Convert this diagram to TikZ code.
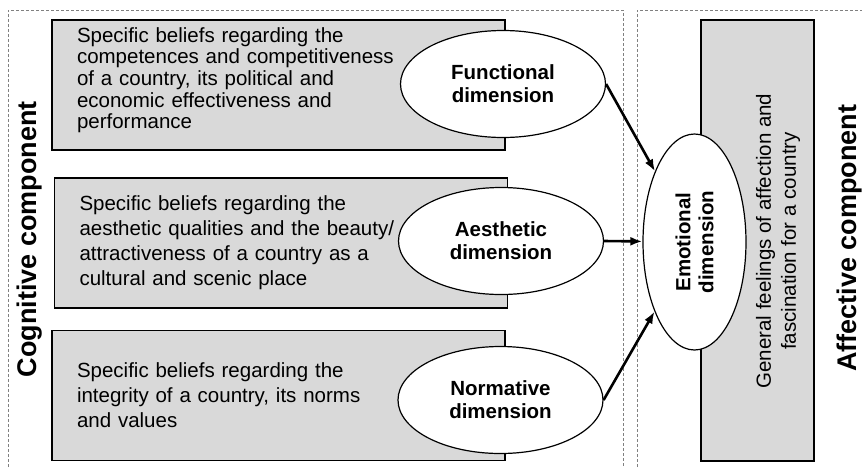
\documentclass[tikz,border=0pt]{standalone}
\usepackage{fontspec}
\setmainfont{Liberation Sans}
\usepackage{xcolor}
\usetikzlibrary{shapes.geometric, arrows.meta}
\definecolor{boxgray}{HTML}{D9D9D9}
\tikzstyle{belief} = [
    rectangle, draw=black, line width=1.7pt, fill=boxgray,
    minimum height=130pt, text width=403pt, inner xsep=25pt,
    align=left, font=\fontsize{20.5pt}{25pt}\selectfont]
\tikzstyle{dimension} = [
    ellipse, draw=black, line width=1.2pt, fill=white,
    minimum width=205pt, minimum height=107pt, inner sep=0pt,
    align=center, font=\fontsize{20.5pt}{23pt}\selectfont\bfseries]
\tikzstyle{heading} = [
    rotate=90, anchor=base, inner sep=0pt,
    font=\fontsize{27pt}{30pt}\selectfont\bfseries]
\tikzstyle{frame} = [draw=gray, line width=0.8pt, dash pattern=on 3pt off 2pt]
\tikzstyle{arrow} = [line width=2.6pt, -{Latex[length=12pt, width=9pt]}]

\begin{document}
\begin{tikzpicture}[x=1pt, y=-1pt]
  \useasboundingbox (0,0) rectangle (862,467);

  % component frames
  \draw [frame] (8,467) |- (623,10) -- (623,467);
  \draw [frame] (637,467) |- (862,10);

  \node (cog) [heading] at (36,239) {Cognitive component};
  \node (aff) [heading] at (856,238) {Affective component};

  % cognitive beliefs
  \node (b1) [belief, font=\fontsize{20.5pt}{21.6pt}\selectfont] at (278.5,85)
      {Specific beliefs regarding the\\
       competences and competitiveness\\
       of a country, its political and\\
       economic effectiveness and\\
       performance\rule[-14pt]{0pt}{0pt}};
  \node (b2) [belief] at (281,243)
      {Specific beliefs regarding the\\
       aesthetic qualities and the beauty/\\
       attractiveness of a country as a\\
       cultural and scenic place};
  \node (b3) [belief] at (278.5,395.5)
      {Specific beliefs regarding the\\
       integrity of a country, its norms\\
       and values};

  \node (func) [dimension] at (503,84) {Functional\\dimension};
  \node (aes) [dimension] at (501,241) {Aesthetic\\dimension};
  \node (norm) [dimension] at (500.5,400) {Normative\\dimension};

  % affective side
  \node (feelbox) [rectangle, draw=black, line width=1.7pt, fill=boxgray,
      minimum width=113pt, minimum height=441pt] at (757.5,240.5) {};
  \node (feel) [rotate=90, align=center,
      font=\fontsize{20.5pt}{25pt}\selectfont] at (778,241)
      {General feelings of affection and\\fascination for a country};
  \node (emo) [dimension, rotate=90, minimum width=216pt,
      minimum height=103pt] at (694.5,242) {Emotional\\dimension};

  \draw [arrow] (func.east) -- (emo);
  \draw [arrow] (aes.east) -- (emo);
  \draw [arrow] (norm.east) -- (emo);

\end{tikzpicture}
\end{document}
